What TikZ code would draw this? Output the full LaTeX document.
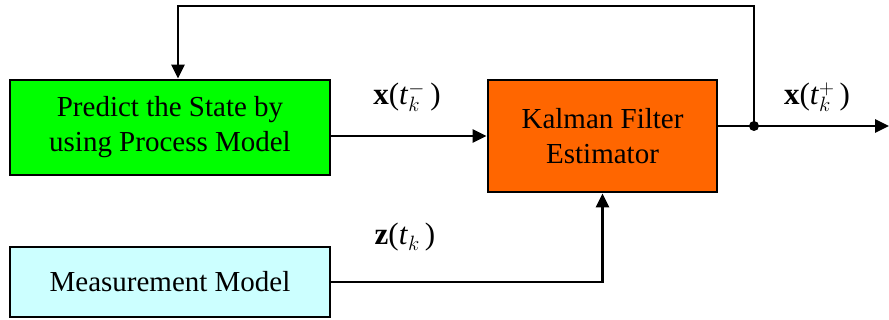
\documentclass[tikz,border=0pt]{standalone}
\usepackage{fontspec}
\setmainfont{Liberation Serif}
\usetikzlibrary{arrows.meta}

\begin{document}
\begin{tikzpicture}[x=1pt,y=-1pt,
  block/.style={draw, line width=2.8pt, align=center, inner sep=0pt,
    font=\fontsize{29}{35}\selectfont},
  arr/.style={line width=2.8pt, -{Triangle[length=14pt,width=13pt]}},
  lbl/.style={font=\fontsize{31}{34}\selectfont}]
\useasboundingbox (0,0) rectangle (889,320);

\node[block, fill={rgb,255:red,0;green,255;blue,0}, minimum width=320pt, minimum height=95pt] (pred) at (170,127.5) {Predict the State by\\using Process Model};
\node[block, fill={rgb,255:red,255;green,102;blue,0}, minimum width=229pt, minimum height=112pt] (kal) at (602.5,136) {Kalman Filter\\Estimator};
\node[block, fill={rgb,255:red,204;green,255;blue,255}, minimum width=320pt, minimum height=70pt] (meas) at (170,282) {Measurement Model};

\coordinate (jn) at (754,126);
\coordinate (out) at (889,126);
\coordinate (top) at (754,6);

% connectors
\draw[arr] (kal.west -| pred.east) -- (kal.west);
\draw[arr] (meas.east) -- (meas.east -| kal.south) -- (kal.south);
\draw[arr] ([yshift=10pt]kal.east) -- (out);
\draw[arr] (jn) -- (top) -| ([xshift=8pt]pred.north);
\fill (jn) circle (5pt);

% labels
\node[lbl] (xm) at (407,97) {\textbf{x}(\textit{t}$_{k}^{-}$\,)};
\node[lbl] (xp) at (817,97) {\textbf{x}(\textit{t}$_{k}^{+}$\,)};
\node[lbl] (zk) at (405,237) {\textbf{z}(\textit{t}$_{k}$\,)};
\end{tikzpicture}
\end{document}
